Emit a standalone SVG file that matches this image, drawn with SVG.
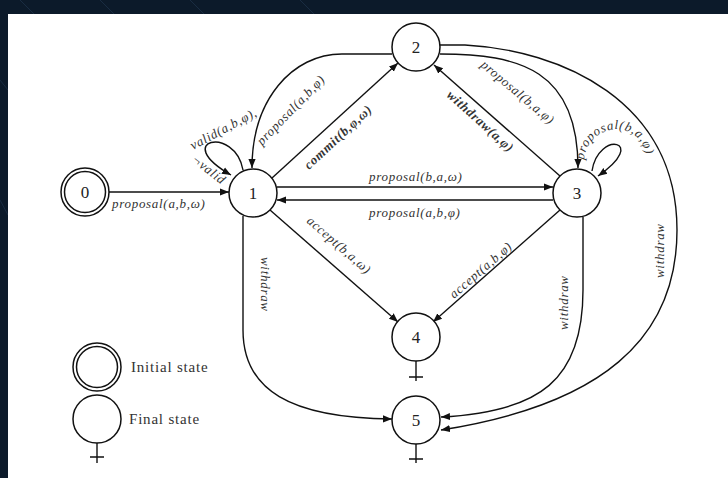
<svg xmlns="http://www.w3.org/2000/svg" width="728" height="478" viewBox="0 0 728 478">
<defs>
<style>
.bg{fill:#0c1a2a}
.paper{fill:#ffffff}
.node circle{fill:#ffffff;stroke:#111;stroke-width:1.5}
.num{font-family:"Liberation Serif",serif;font-size:17px;fill:#222;text-anchor:middle;dominant-baseline:central}
.lbl{font-family:"Liberation Serif",serif;font-style:italic;font-size:13px;letter-spacing:0.7px;fill:#333}
.leg{font-family:"Liberation Serif",serif;font-size:15px;letter-spacing:0.8px;fill:#333}
.edge{fill:none;stroke:#111;stroke-width:1.4}
.cross{stroke:#111;stroke-width:1.4;fill:none}
</style>
<marker id="ah" viewBox="0 0 10 10" refX="10" refY="5" markerWidth="9" markerHeight="9" markerUnits="userSpaceOnUse" orient="auto">
<path d="M0,1 L10,5 L0,9 z" fill="#111"/>
</marker>
<path id="loop3txt" d="M584,160 C588,118 652,118 646,168 C644,182 630,188 616,190"/>
</defs>
<rect class="bg" x="0" y="0" width="728" height="478"/>
<g stroke="#1d3148" stroke-width="1" opacity="0.8">
<line x1="20" y1="0" x2="34" y2="14"/>
<line x1="100" y1="0" x2="114" y2="14"/>
<line x1="190" y1="0" x2="204" y2="14"/>
<line x1="300" y1="0" x2="314" y2="14"/>
<line x1="0" y1="80" x2="8" y2="90"/>
<line x1="0" y1="200" x2="8" y2="215"/>
</g>
<rect class="paper" x="8" y="14" width="720" height="464"/>

<g id="edges">
<!-- 0 -> 1 -->
<path class="edge" d="M109,192 L229,192" marker-end="url(#ah)"/>
<!-- 1 self loop -->
<path class="edge" d="M243,170 C235,125 170,140 231,175" marker-end="url(#ah)"/>
<!-- 2 -> 1 -->
<path class="edge" d="M392,54 L342,54 C292,54 252,100 252,168" marker-end="url(#ah)"/>
<!-- 1 -> 2 -->
<path class="edge" d="M272,178 L398,63" marker-end="url(#ah)"/>
<!-- 2 -> 3 -->
<path class="edge" d="M440,54 C520,54 578,70 578,168" marker-end="url(#ah)"/>
<!-- 3 -> 2 -->
<path class="edge" d="M560,176 L434,65" marker-end="url(#ah)"/>
<!-- 1 -> 3 -->
<path class="edge" d="M277,187 L553,187" marker-end="url(#ah)"/>
<!-- 3 -> 1 -->
<path class="edge" d="M553,200 L277,200" marker-end="url(#ah)"/>
<!-- 3 self loop -->
<path class="edge" d="M592,171 C598,130 650,140 598,176" marker-end="url(#ah)"/>
<!-- 1 -> 4 -->
<path class="edge" d="M270,210 L398,322" marker-end="url(#ah)"/>
<!-- 3 -> 4 -->
<path class="edge" d="M560,210 L433,322" marker-end="url(#ah)"/>
<!-- 1 -> 5 -->
<path class="edge" d="M243,216 L243,330 C243,390 290,418 392,419" marker-end="url(#ah)"/>
<!-- 3 -> 5 -->
<path class="edge" d="M583,217 L583,290 C583,380 540,412 441,417" marker-end="url(#ah)"/>
<!-- 2 -> 5 -->
<path class="edge" d="M440,45 L465,45 C560,50 677,100 677,230 C677,340 600,405 441,430" marker-end="url(#ah)"/>
</g>

<g id="labels">
<text class="lbl" x="112" y="208">proposal(a,b,ω)</text>
<text class="lbl" transform="translate(193,150) rotate(-28)">valid(a,b,φ),</text>
<text class="lbl" transform="translate(191,161) rotate(38)">¬valid</text>
<text class="lbl" transform="translate(262,146) rotate(-46)">proposal(a,b,φ)</text>
<text class="lbl" font-weight="bold" transform="translate(309,170) rotate(-43)">commit(b,φ,ω)</text>
<text class="lbl" transform="translate(480,66) rotate(40)">proposal(b,a,φ)</text>
<text class="lbl" font-weight="bold" transform="translate(446,96) rotate(42)">withdraw(a,φ)</text>
<text class="lbl" x="369" y="181">proposal(b,a,ω)</text>
<text class="lbl" x="369" y="217">proposal(a,b,φ)</text>
<text class="lbl"><textPath href="#loop3txt">proposal(b,a,φ)</textPath></text>
<text class="lbl" transform="translate(306,222) rotate(41)">accept(b,a,ω)</text>
<text class="lbl" transform="translate(454,299) rotate(-41)">accept(a,b,φ)</text>
<text class="lbl" transform="translate(261,257) rotate(90)">withdraw</text>
<text class="lbl" transform="translate(568,330) rotate(-90)">withdraw</text>
<text class="lbl" transform="translate(664,278) rotate(-90)">withdraw</text>
</g>

<g id="node0" class="node">
<circle cx="85" cy="192" r="24"/>
<circle cx="85" cy="192" r="20.5"/>
<text class="num" x="85" y="192">0</text>
</g>
<g id="node1" class="node">
<circle cx="253" cy="193" r="24"/>
<text class="num" x="253" y="193">1</text>
</g>
<g id="node2" class="node">
<circle cx="416" cy="47" r="24"/>
<text class="num" x="416" y="47">2</text>
</g>
<g id="node3" class="node">
<circle cx="577" cy="193" r="24"/>
<text class="num" x="577" y="193">3</text>
</g>
<g id="node4" class="node">
<circle cx="416" cy="337" r="24"/>
<text class="num" x="416" y="337">4</text>
<path class="cross" d="M416,361 V381 M409,377 H423"/>
</g>
<g id="node5" class="node">
<circle cx="416" cy="420" r="24"/>
<text class="num" x="416" y="420">5</text>
<path class="cross" d="M416,444 V463 M409,459 H423"/>
</g>

<g id="legend">
<g id="legend-initial" class="node">
<circle cx="97" cy="367" r="24"/>
<circle cx="97" cy="367" r="20.5"/>
</g>
<text class="leg" x="131" y="372">Initial state</text>
<g id="legend-final" class="node">
<circle cx="97" cy="419" r="24"/>
<path class="cross" d="M97,443 V463 M90,457 H104"/>
</g>
<text class="leg" x="129" y="424">Final state</text>
</g>
</svg>
